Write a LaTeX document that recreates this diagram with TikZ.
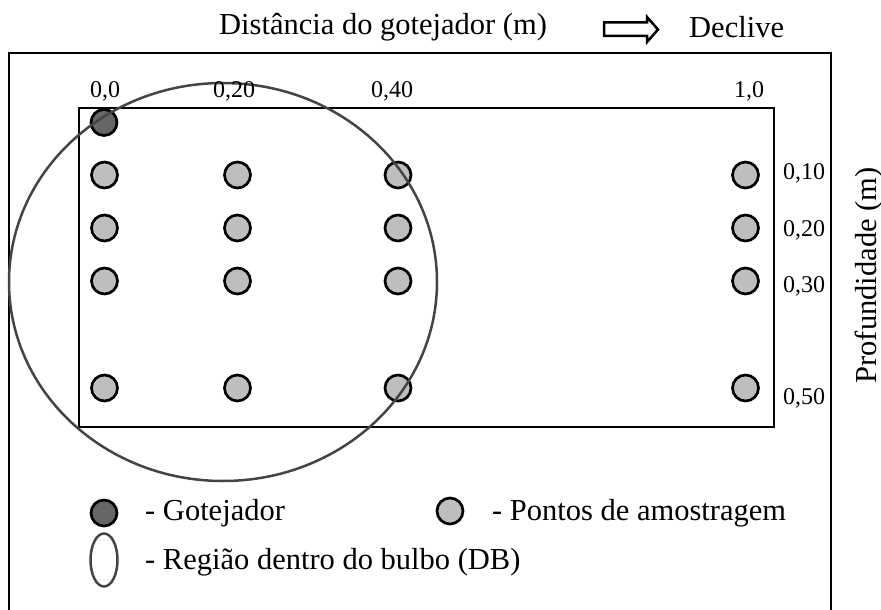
\documentclass[tikz,border=0pt]{standalone}
\usepackage{fontspec}
\setmainfont{Liberation Serif}
\definecolor{ptgray}{HTML}{BEBEBE}
\definecolor{dripgray}{HTML}{666666}
\definecolor{bulbgray}{HTML}{444444}
\tikzset{
  frame/.style={draw=black,line width=2.6pt,fill=none},
  pt/.style={circle,draw=black,line width=2.7pt,fill=ptgray,minimum size=26pt,inner sep=0pt},
  drip/.style={circle,draw=black,line width=2.7pt,fill=dripgray,minimum size=26pt,inner sep=0pt},
  bulb/.style={draw=bulbgray,line width=2.5pt},
  big/.style={font=\fontsize{30.5}{34}\selectfont,inner sep=0pt,anchor=base west},
  small/.style={font=\fontsize{24}{28}\selectfont,inner sep=0pt,anchor=base},
  smallw/.style={font=\fontsize{24}{28}\selectfont,inner sep=0pt,anchor=base west},
}
\begin{document}
\begin{tikzpicture}[x=1pt,y=-1pt]
\useasboundingbox (0,0) rectangle (881,610);
\fill[white] (0,0) rectangle (881,610);
\draw[frame] (9,612) -- (9,53) -- (831,53) -- (831,612);
\draw[frame] (79,108) rectangle (774,427);
\foreach \x/\n in {104.5/a,237.5/b,398/c,745.5/d}{
  \foreach \y/\m in {175/1,228/2,281/3,388/5}{
    \node[pt] (p\n\m) at (\x,\y) {};
  }
}
\node[drip] (g) at (104,122.5) {};
\draw[bulb] (223,282) ellipse [x radius=214, y radius=199];
\node[small] (h1) at (105,97) {0,0};
\node[small] (h2) at (234,97) {0,20};
\node[small] (h3) at (392,97) {0,40};
\node[small] (h4) at (749,97) {1,0};
\node[smallw] (v1) at (783,179) {0,10};
\node[smallw] (v2) at (783,236) {0,20};
\node[smallw] (v3) at (783,292) {0,30};
\node[smallw] (v5) at (783,404) {0,50};
\node[big] (t) at (219,35) {Distância do gotejador (m)};
\node[big] (d) at (689,38) {Declive};
\draw[draw=black,line width=2.5pt,fill=white,miter limit=4] (604,22.5) -- (647,22.5) -- (647,17) -- (658,29.5) -- (647,42) -- (647,36) -- (604,36) -- cycle;
\node[big,rotate=90,anchor=base] (prof) at (876,275.5) {Profundidade (m)};
\node[drip] (lg) at (104,513) {};
\node[big] (l1) at (145,520) {- Gotejador};
\node[pt] (lp) at (450,511) {};
\node[big] (l2) at (492,520) {- Pontos de amostragem};
\draw[bulb] (104,560) ellipse [x radius=13.5, y radius=26.5];
\node[big] (l3) at (145,569) {- Região dentro do bulbo (DB)};
\end{tikzpicture}
\end{document}
